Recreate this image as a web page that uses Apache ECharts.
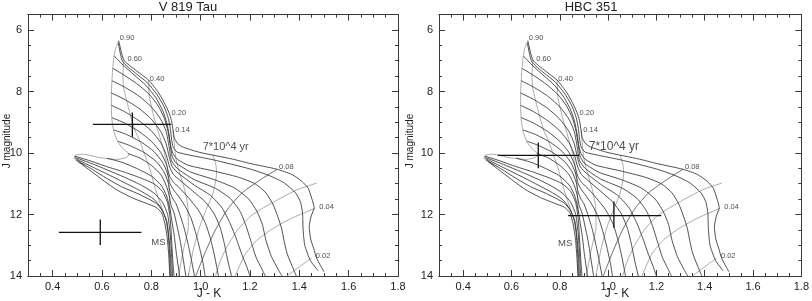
<!DOCTYPE html>
<html><head><meta charset="utf-8">
<script src="https://cdn.jsdelivr.net/npm/echarts@6/dist/echarts.min.js"></script>
<style>html,body{margin:0;padding:0;background:#fff}#c{width:812px;height:301px}</style>
</head><body><div id="c"></div>
<script>
// ---- tick labels ----
const xTicks = [0.4, 0.6, 0.8, 1.0, 1.2, 1.4, 1.6, 1.8];
const yTicks = [6, 8, 10, 12, 14];
const panelTitles = ['V 819 Tau', 'HBC 351'];

// ---- isochrones (black), youngest first : [J-K, J] ----
const iso01 = [[0.668,6.35],[0.689,6.98],[0.74,7.33],[0.789,7.63],[0.83,8.05],[0.858,8.45],[0.875,8.76],[0.883,9.0],[0.888,9.25],[0.893,9.5],[0.905,9.68],[0.926,9.8],[0.996,9.98],[1.13,10.2],[1.2,10.34],[1.31,10.53],[1.37,10.7],[1.41,10.92],[1.436,11.15],[1.45,11.47],[1.46,11.78],[1.448,12.05],[1.44,12.4],[1.446,12.8],[1.458,13.1],[1.47,13.42],[1.49,13.72],[1.5,13.86]];
const iso02 = [[0.666,6.42],[0.684,7.03],[0.735,7.4],[0.782,7.7],[0.823,8.1],[0.852,8.5],[0.868,8.85],[0.877,9.2],[0.882,9.55],[0.888,9.8],[0.905,9.97],[0.956,10.07],[1.05,10.22],[1.2,10.52],[1.28,10.74],[1.34,10.98],[1.385,11.3],[1.405,11.6],[1.413,11.96],[1.415,12.45],[1.422,13.0],[1.445,13.5],[1.476,13.83]];
const iso03 = [[0.65,6.85],[0.68,7.1],[0.73,7.46],[0.778,7.8],[0.818,8.2],[0.846,8.62],[0.862,9.0],[0.872,9.4],[0.878,9.75],[0.888,10.02],[0.905,10.2],[0.95,10.4],[1.05,10.58],[1.15,10.78],[1.22,11.0],[1.265,11.3],[1.295,11.7],[1.314,12.1],[1.328,12.45],[1.338,12.85],[1.35,13.26],[1.372,13.7],[1.388,14.0]];
const iso04 = [[0.644,7.25],[0.69,7.47],[0.74,7.74],[0.79,8.08],[0.828,8.47],[0.853,8.88],[0.867,9.28],[0.876,9.7],[0.884,10.1],[0.9,10.32],[0.96,10.62],[1.06,10.88],[1.14,11.15],[1.195,11.5],[1.228,11.9],[1.25,12.32],[1.265,12.85],[1.287,13.37],[1.315,13.8],[1.33,14.0]];
const iso05 = [[0.64,7.65],[0.69,7.85],[0.75,8.15],[0.8,8.5],[0.838,8.9],[0.86,9.3],[0.872,9.8],[0.882,10.25],[0.905,10.5],[0.97,10.85],[1.06,11.15],[1.12,11.48],[1.16,11.9],[1.185,12.4],[1.205,12.9],[1.225,13.4],[1.25,13.8],[1.262,14.0]];
const iso06 = [[0.638,8.05],[0.69,8.25],[0.75,8.55],[0.8,8.9],[0.838,9.3],[0.86,9.7],[0.873,10.15],[0.885,10.45],[0.91,10.66],[0.975,11.05],[1.04,11.38],[1.088,11.8],[1.12,12.3],[1.145,12.8],[1.167,13.3],[1.187,13.7],[1.2,14.0]];
const iso07 = [[0.638,8.45],[0.69,8.65],[0.75,8.95],[0.8,9.28],[0.838,9.66],[0.86,10.05],[0.874,10.45],[0.89,10.7],[0.915,10.88],[0.97,11.25],[1.02,11.6],[1.055,11.98],[1.08,12.45],[1.096,12.95],[1.11,13.5],[1.125,14.0]];
const iso08 = [[0.64,8.85],[0.69,9.02],[0.75,9.3],[0.8,9.62],[0.838,9.98],[0.86,10.35],[0.874,10.75],[0.89,10.96],[0.91,11.1],[0.95,11.45],[0.99,11.85],[1.02,12.3],[1.04,12.8],[1.055,13.3],[1.065,13.7],[1.072,14.0]];
const iso09 = [[0.648,9.25],[0.7,9.4],[0.76,9.65],[0.81,9.95],[0.845,10.3],[0.865,10.65],[0.876,11.0],[0.89,11.2],[0.905,11.35],[0.935,11.7],[0.96,12.1],[0.98,12.6],[0.996,13.1],[1.01,13.6],[1.018,14.0]];
const iso10 = [[0.665,9.62],[0.71,9.75],[0.77,9.98],[0.82,10.28],[0.85,10.6],[0.868,10.95],[0.877,11.3],[0.888,11.5],[0.9,11.65],[0.916,12.0],[0.935,12.5],[0.95,13.0],[0.963,13.5],[0.975,14.0]];
const iso11 = [[0.705,10.02],[0.75,10.15],[0.8,10.4],[0.838,10.7],[0.86,11.05],[0.873,11.4],[0.88,11.7],[0.892,11.95],[0.905,12.4],[0.918,12.9],[0.93,13.5],[0.94,14.0]];
const iso12 = [[0.62,10.17],[0.68,10.3],[0.74,10.5],[0.8,10.75],[0.84,11.05],[0.862,11.4],[0.875,11.8],[0.883,12.2],[0.893,12.7],[0.902,13.3],[0.915,14.0]];
const iso13 = [[0.489,10.1],[0.55,10.25],[0.618,10.44],[0.69,10.62],[0.753,10.8],[0.81,11.0],[0.845,11.25],[0.865,11.6],[0.876,12.1],[0.882,12.8],[0.887,13.5],[0.892,14.0]];
const iso14 = [[0.49,10.14],[0.56,10.35],[0.63,10.58],[0.7,10.82],[0.76,11.05],[0.81,11.3],[0.845,11.6],[0.866,12.0],[0.876,12.6],[0.882,13.3],[0.886,14.0]];
const iso15 = [[0.492,10.18],[0.56,10.45],[0.63,10.72],[0.7,11.0],[0.76,11.25],[0.81,11.5],[0.84,11.8],[0.862,12.2],[0.872,12.8],[0.878,13.4],[0.881,14.0]];
const iso16 = [[0.496,10.23],[0.56,10.53],[0.618,10.82],[0.68,11.1],[0.739,11.3],[0.79,11.5],[0.82,11.64],[0.845,11.88],[0.86,12.2],[0.868,12.61],[0.874,13.3],[0.877,14.0]];
const iso17 = [[0.503,10.28],[0.56,10.62],[0.61,10.92],[0.66,11.2],[0.72,11.45],[0.78,11.64],[0.82,11.77],[0.842,11.95],[0.855,12.3],[0.865,12.8],[0.871,13.4],[0.875,14.0]];
const isochrones = [iso01,iso02,iso03,iso04,iso05,iso06,iso07,iso08,iso09,iso10,iso11,iso12,iso13,iso14,iso15,iso16,iso17];

// ---- mass tracks (grey) ----
const trk090 = [[0.668,6.35],[0.655,6.6],[0.648,6.9],[0.643,7.3],[0.64,7.7],[0.638,8.1],[0.638,8.5],[0.64,8.9],[0.648,9.3],[0.665,9.65],[0.69,9.9],[0.71,10.03],[0.7,10.14],[0.66,10.21],[0.59,10.15],[0.525,10.04],[0.493,10.07],[0.486,10.17],[0.503,10.28],[0.53,10.4]];
const trk060 = [[0.689,6.98],[0.685,7.4],[0.687,7.84],[0.706,8.49],[0.733,9.25],[0.753,9.6],[0.766,9.9],[0.78,10.2],[0.795,10.55],[0.814,11.1],[0.83,11.5],[0.848,11.9]];
const trk040 = [[0.789,7.63],[0.792,8.17],[0.81,8.82],[0.834,9.47],[0.853,10.0],[0.865,10.5],[0.872,11.2],[0.876,12.0]];
const trk014 = [[0.888,9.25],[0.893,9.7],[0.9,10.2],[0.915,10.66],[0.935,11.2],[0.948,11.74],[0.95,12.4],[0.93,13.15],[0.91,14.0]];
const trk010 = [[1.05,10.07],[1.062,10.4],[1.064,10.7],[1.05,11.3],[1.022,11.85],[0.996,12.4],[0.97,13.15],[0.95,14.0]];
const trk008 = [[1.31,10.53],[1.25,10.83],[1.17,11.28],[1.11,11.82],[1.06,12.5],[1.02,13.2],[0.98,14.0]];
const trk006 = [[1.47,10.98],[1.39,11.2],[1.31,11.53],[1.24,11.85],[1.2,12.07],[1.15,12.5],[1.11,13.0],[1.08,13.5],[1.06,14.0]];
const trk004 = [[1.463,11.8],[1.375,12.1],[1.294,12.45],[1.226,12.85],[1.18,13.3],[1.14,14.0]];
const trk002 = [[1.45,13.42],[1.4,13.7],[1.35,14.0]];
const greyTracks = [trk090,trk060,trk040,trk014,trk010,trk006,trk004,trk002];
const darkTracks = [trk008];

// ---- labels ----
const massLabels = ['0.90','0.60','0.40','0.20','0.14','0.08','0.04','0.02'];
const massLabelAt = [[0.672,6.27],[0.703,6.93],[0.794,7.6],[0.882,8.71],[0.897,9.25],[1.318,10.44],[1.481,11.75],[1.467,13.34]];
const ageLabel = '7*10^4 yr';
const ageLabelAt = [[1.008,9.79],[0.92,9.79]];
const msLabel = 'MS';
const msLabelAt = [[0.80,12.9],[0.793,12.94]];

// ---- observed stars with error bars ----
const errLeft = [
  [[0.563,9.07],[0.881,9.07]], [[0.723,8.68],[0.723,9.47]],
  [[0.425,12.58],[0.76,12.58]], [[0.593,12.16],[0.593,12.99]]
];
const errRight = [
  [[0.543,10.08],[0.881,10.08]], [[0.711,9.66],[0.711,10.5]],
  [[0.834,12.04],[1.22,12.04]], [[1.024,11.58],[1.024,12.43]]
];
const panelErrors = [errLeft, errRight];

// ---------------------------------------------------------------
const FONT = 'Liberation Sans, Arial, sans-serif';
const AX = '#3a3a3a';
const grids = [
  {left: 28, width: 370, top: 14.6, height: 261.4},
  {left: 439, width: 366, top: 14.6, height: 261.4}
];
const xAxes = [], yAxes = [];
function addAxes(g) {
  const base = {type:'value', gridIndex:g, min:0.3, max:1.8, splitLine:{show:false},
    axisLine:{show:true, onZero:false, lineStyle:{color:AX, width:1}}};
  xAxes.push(Object.assign({}, base, {position:'bottom',
    axisTick:{show:true, inside:true, length:6, customValues:xTicks, lineStyle:{color:AX}},
    axisLabel:{show:true, customValues:xTicks, margin:5, fontSize:11, fontFamily:FONT, color:'#222', formatter:v=>v.toFixed(1)}}));
  xAxes.push(Object.assign({}, base, {position:'bottom', interval:0.05,
    axisTick:{show:true, inside:true, length:3, lineStyle:{color:AX}}, axisLabel:{show:false}}));
  xAxes.push(Object.assign({}, base, {position:'top',
    axisTick:{show:true, inside:true, length:6, customValues:xTicks, lineStyle:{color:AX}}, axisLabel:{show:false}}));
  xAxes.push(Object.assign({}, base, {position:'top', interval:0.05,
    axisTick:{show:true, inside:true, length:3, lineStyle:{color:AX}}, axisLabel:{show:false}}));
  const ybase = {type:'value', gridIndex:g, min:5.5, max:14, inverse:true, splitLine:{show:false},
    axisLine:{show:true, onZero:false, lineStyle:{color:AX, width:1}}};
  yAxes.push(Object.assign({}, ybase, {position:'left',
    axisTick:{show:true, inside:true, length:6, customValues:yTicks, lineStyle:{color:AX}},
    axisLabel:{show:true, customValues:yTicks, margin:6, fontSize:11, fontFamily:FONT, color:'#222', formatter:v=>String(v)}}));
  yAxes.push(Object.assign({}, ybase, {position:'left', interval:0.5,
    axisTick:{show:true, inside:true, length:3, lineStyle:{color:AX}}, axisLabel:{show:false}}));
  yAxes.push(Object.assign({}, ybase, {position:'right',
    axisTick:{show:true, inside:true, length:6, customValues:yTicks, lineStyle:{color:AX}}, axisLabel:{show:false}}));
  yAxes.push(Object.assign({}, ybase, {position:'right', interval:0.5,
    axisTick:{show:true, inside:true, length:3, lineStyle:{color:AX}}, axisLabel:{show:false}}));
}
addAxes(0); addAxes(1);

const series = [];
function lineSeries(g, data, color, width) {
  return {type:'line', xAxisIndex:4*g, yAxisIndex:4*g, data:data, showSymbol:false, symbol:'none',
    smooth:0.2, silent:true, animation:false, clip:true, lineStyle:{color:color, width:width}};
}
for (let g = 0; g < 2; g++) {
  greyTracks.forEach(t => series.push(lineSeries(g, t, '#a0a0a0', 0.9)));
  darkTracks.forEach(t => series.push(lineSeries(g, t, '#5a5a5a', 0.9)));
  isochrones.forEach(t => series.push(lineSeries(g, t, '#303030', 0.85)));
  panelErrors[g].forEach(e => { const s = lineSeries(g, e, '#111', 1.3); s.smooth = false; series.push(s); });
  const lab = massLabels.map((t, i) => ({value:[massLabelAt[i][0], massLabelAt[i][1]], name:t}));
  series.push({type:'scatter', xAxisIndex:4*g, yAxisIndex:4*g, symbolSize:0, silent:true, animation:false,
    data:lab, label:{show:true, position:'right', distance:0, formatter:p=>p.name, fontSize:7.5, fontFamily:FONT, color:'#222'}});
  series.push({type:'scatter', xAxisIndex:4*g, yAxisIndex:4*g, symbolSize:0, silent:true, animation:false,
    data:[{value:ageLabelAt[g], name:ageLabel, label:{fontSize: g===0 ? 11 : 12}},
          {value:msLabelAt[g], name:msLabel, label:{fontSize:9.5}}],
    label:{show:true, position:'right', distance:0, formatter:p=>p.name, fontSize:11, fontFamily:FONT, color:'#222'}});
}

const graphic = [
  {type:'text', x:188, y:7, style:{text:panelTitles[0], font:'13px '+FONT, fill:'#222', textAlign:'center', textVerticalAlign:'middle'}},
  {type:'text', x:591, y:7, style:{text:panelTitles[1], font:'13px '+FONT, fill:'#222', textAlign:'center', textVerticalAlign:'middle'}},
  {type:'text', x:7, y:141, rotation:Math.PI/2, style:{text:'J magnitude', font:'10px '+FONT, fill:'#222', textAlign:'center', textVerticalAlign:'middle'}},
  {type:'text', x:410, y:141, rotation:Math.PI/2, style:{text:'J magnitude', font:'10px '+FONT, fill:'#222', textAlign:'center', textVerticalAlign:'middle'}},
  {type:'text', x:209, y:294, style:{text:'J - K', font:'12px '+FONT, fill:'#222', textAlign:'center', textVerticalAlign:'middle'}},
  {type:'text', x:617, y:294, style:{text:'J - K', font:'12px '+FONT, fill:'#222', textAlign:'center', textVerticalAlign:'middle'}}
];

const chart = echarts.init(document.getElementById('c'), null, {renderer:'canvas'});
chart.setOption({animation:false, backgroundColor:'#fff', grid:grids, xAxis:xAxes, yAxis:yAxes, series:series, graphic:graphic});
</script></body></html>
